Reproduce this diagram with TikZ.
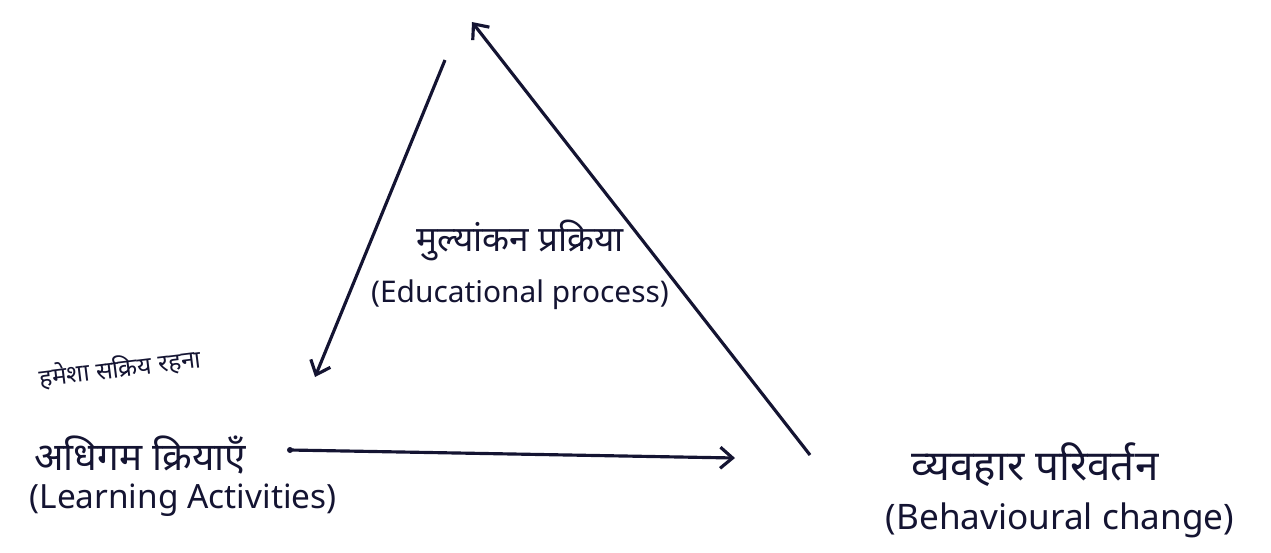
\documentclass[tikz,border=0pt]{standalone}
\usepackage{fontspec}
\setmainfont{Noto Sans}
\newfontfamily\deva[Script=Devanagari]{Noto Sans}
\usetikzlibrary{arrows.meta}
\definecolor{ink}{RGB}{20,20,50}
\tikzset{
  conn/.style={draw=ink, line width=1.8pt, -{Straight Barb[length=7pt,width=12pt,line width=1.8pt]}},
  hin/.style={text=ink, inner sep=0pt},
  eng/.style={text=ink, inner sep=0pt},
}
\begin{document}
\begin{tikzpicture}[x=0.02cm,y=-0.02cm]
\useasboundingbox (0,0) rectangle (1271,552);
% arrow endpoints
\coordinate (l1s) at (445,60);
\coordinate (l1e) at (315,377);
\coordinate (l2s) at (810,455);
\coordinate (l2e) at (472,22);
\coordinate (l3s) at (290,450);
\coordinate (l3e) at (735,458);
% labels
\node[hin, font=\deva\fontsize{20}{24}\selectfont] (evalh) at (520,240) {मुल्यांकन प्रक्रिया};
\node[eng, font=\fontsize{17}{20}\selectfont] (evale) at (520,295) {(Educational process)};
\node[hin, font=\deva\fontsize{14}{16}\selectfont, rotate=7] (active) at (120,368) {हमेशा सक्रिय रहना};
\node[hin, font=\deva\fontsize{22}{25}\selectfont] (learnh) at (140,455) {अधिगम क्रियाएँ};
\node[eng, font=\fontsize{19}{22}\selectfont] (learne) at (183,500) {(Learning Activities)};
\node[hin, font=\deva\fontsize{24}{28}\selectfont] (behh) at (1035,465) {व्यवहार परिवर्तन};
\node[eng, font=\fontsize{20}{24}\selectfont] (behe) at (1060,520) {(Behavioural change)};
% connectors
\draw[conn] (l1s) -- (l1e);
\draw[conn] (l2s) -- (l2e);
\fill[ink] (l3s) circle (3);
\draw[conn] (l3s) -- (l3e);
\end{tikzpicture}
\end{document}
